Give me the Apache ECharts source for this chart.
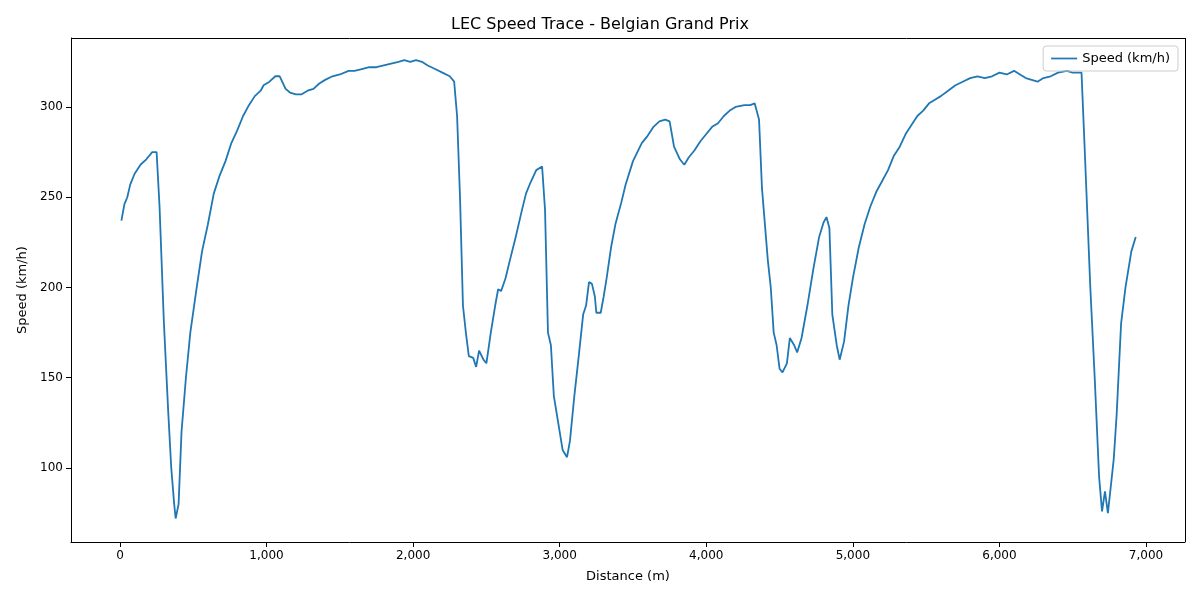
<!DOCTYPE html>
<html><head><meta charset="utf-8">
<script src="https://cdn.jsdelivr.net/npm/echarts@6/dist/echarts.min.js"></script>
<style>html,body{margin:0;padding:0;background:#fff}#c{width:1200px;height:600px}</style>
</head><body><div id="c"></div>
<script>
const distance=[10,30,50,70,100,140,180,220,250,270,300,330,350,370,380,400,420,450,480,520,560,600,640,680,720,760,800,840,880,920,960,980,1020,1060,1090,1130,1160,1200,1240,1280,1320,1360,1400,1450,1500,1560,1600,1650,1700,1750,1800,1850,1900,1940,1980,2020,2060,2100,2150,2200,2250,2280,2300,2320,2340,2360,2380,2410,2430,2450,2480,2500,2530,2560,2580,2600,2630,2660,2700,2740,2770,2800,2840,2880,2900,2920,2940,2960,2990,3020,3050,3070,3100,3130,3160,3180,3200,3220,3240,3250,3280,3300,3320,3350,3380,3420,3450,3500,3530,3560,3600,3640,3680,3720,3750,3780,3820,3850,3880,3920,3960,4000,4040,4080,4120,4160,4200,4260,4300,4330,4360,4380,4420,4440,4460,4480,4500,4520,4550,4570,4600,4620,4650,4690,4730,4770,4800,4820,4840,4860,4890,4910,4940,4970,5000,5040,5080,5120,5160,5200,5240,5280,5320,5360,5400,5440,5480,5520,5560,5600,5650,5700,5750,5800,5850,5900,5950,6000,6050,6100,6140,6180,6220,6260,6300,6350,6400,6460,6500,6560,6580,6620,6650,6680,6700,6720,6740,6760,6780,6800,6830,6860,6900,6930];
const speed=[237,246,250,257,263,268,271,275,275,245,180,130,100,80,72,80,120,150,175,198,220,235,252,262,270,280,287,295,301,306,309,312,314,317,317,310,308,307,307,309,310,313,315,317,318,320,320,321,322,322,323,324,325,326,325,326,325,323,321,319,317,314,295,250,190,175,162,161,156,165,160,158,175,190,199,198,205,215,228,242,252,258,265,267,243,175,168,140,125,110,106,115,140,162,185,190,203,202,195,186,186,195,205,222,235,247,257,270,275,280,284,289,292,293,292,278,271,268,272,276,281,285,289,291,295,298,300,301,301,302,293,255,215,200,175,168,155,153,158,172,168,164,172,190,210,228,236,239,233,185,168,160,170,190,205,222,235,245,253,259,265,273,278,285,290,295,298,302,304,306,309,312,314,316,317,316,317,319,318,320,318,316,315,314,316,317,319,320,319,319,280,200,150,95,76,87,75,90,105,130,180,200,220,228];
const xTicks=[0,1000,2000,3000,4000,5000,6000,7000];
const yTicks=[100,150,200,250,300];
const F='DejaVu Sans';
const chart=echarts.init(document.getElementById('c'));
chart.setOption({
 animation:false,
 title:{text:'LEC Speed Trace - Belgian Grand Prix',left:'center',top:12,textStyle:{fontFamily:F,fontSize:16,fontWeight:'normal',color:'#000'}},
 legend:{data:['Speed (km/h)'],right:22,top:46,orient:'vertical',icon:'path://M0,0H30V2H0Z',itemWidth:26,itemHeight:2,
  textStyle:{fontFamily:F,fontSize:13,color:'#000'},borderColor:'#ccc',borderWidth:1,borderRadius:3,padding:[6,8,6,8]},
 grid:{left:71,right:15,top:38,bottom:58},
 xAxis:{type:'value',min:-334,max:7266,name:'Distance (m)',nameLocation:'middle',nameGap:28,nameTextStyle:{fontFamily:F,fontSize:13,color:'#000'},
  axisLine:{onZero:false,lineStyle:{color:'#000'}},splitLine:{show:false},
  axisTick:{show:true,customValues:xTicks,lineStyle:{color:'#000'}},
  axisLabel:{customValues:xTicks,fontFamily:F,fontSize:12,color:'#000'}},
 yAxis:{type:'value',min:59,max:338.2,name:'Speed (km/h)',nameLocation:'middle',nameGap:40,nameTextStyle:{fontFamily:F,fontSize:13,color:'#000'},
  axisLine:{show:true,onZero:false,lineStyle:{color:'#000'}},splitLine:{show:false},
  axisTick:{show:true,customValues:yTicks,lineStyle:{color:'#000'}},
  axisLabel:{customValues:yTicks,fontFamily:F,fontSize:12,color:'#000'}},
 series:[{name:'Speed (km/h)',type:'line',showSymbol:false,data:distance.map((d,i)=>[d,speed[i]]),
  lineStyle:{color:'#1f77b4',width:1.8},itemStyle:{color:'#1f77b4'}},
  {type:'line',data:[],markLine:{silent:true,symbol:'none',label:{show:false},lineStyle:{color:'#000',type:'solid',width:1},
   data:[[{coord:[-334,338.2]},{coord:[7266,338.2]}],[{coord:[7266,59]},{coord:[7266,338.2]}]]}}]
});
</script></body></html>
